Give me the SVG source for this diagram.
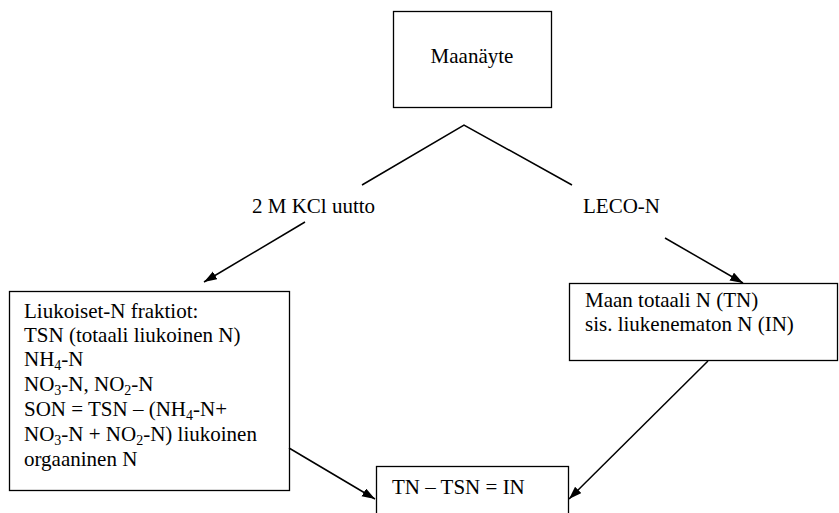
<svg xmlns="http://www.w3.org/2000/svg" width="839" height="513" viewBox="0 0 839 513">
<defs>
<style>
.box{fill:#fff;stroke:#000;stroke-width:1.3}
.t{font-family:"Liberation Serif","Times New Roman",serif;font-size:21px;fill:#000}
.sub{font-size:14px}
.ln{stroke:#000;stroke-width:1.5;fill:none}
.arr{marker-end:url(#ah)}
</style>
<marker id="ah" markerUnits="userSpaceOnUse" markerWidth="14" markerHeight="10" refX="13" refY="4.5" orient="auto">
<path d="M0,0 L13,4.5 L0,9 z" fill="#000"/>
</marker>
</defs>
<rect width="839" height="513" fill="#fff"/>
<g id="maanayte">
<rect class="box" x="393.5" y="11.5" width="158" height="96"/>
<text class="t" x="472" y="63" text-anchor="middle">Maanäyte</text>
</g>
<g id="kcl-label">
<text class="t" x="252" y="213">2 M KCl uutto</text>
</g>
<g id="leco-label">
<text class="t" x="583" y="213">LECO-N</text>
</g>
<g id="liukoiset">
<rect class="box" x="9.5" y="291.5" width="280" height="199"/>
<text class="t" x="24" y="318">Liukoiset-N fraktiot:</text>
<text class="t" x="24" y="342">TSN (totaali liukoinen N)</text>
<text class="t" x="24" y="366">NH<tspan class="sub" dy="4">4</tspan><tspan dy="-4">-N</tspan></text>
<text class="t" x="24" y="391">NO<tspan class="sub" dy="4">3</tspan><tspan dy="-4">-N, NO</tspan><tspan class="sub" dy="4">2</tspan><tspan dy="-4">-N</tspan></text>
<text class="t" x="24" y="416">SON = TSN – (NH<tspan class="sub" dy="4">4</tspan><tspan dy="-4">-N+</tspan></text>
<text class="t" x="24" y="441">NO<tspan class="sub" dy="4">3</tspan><tspan dy="-4">-N + NO</tspan><tspan class="sub" dy="4">2</tspan><tspan dy="-4">-N) liukoinen</tspan></text>
<text class="t" x="24" y="466">orgaaninen N</text>
</g>
<g id="totaali">
<rect class="box" x="569.5" y="283.5" width="268" height="77"/>
<text class="t" x="585" y="307">Maan totaali N (TN)</text>
<text class="t" x="585" y="331">sis. liukenematon N (IN)</text>
</g>
<g id="tulos">
<rect class="box" x="376.5" y="466.5" width="192" height="60"/>
<text class="t" x="392" y="494">TN – TSN = IN</text>
</g>
<g id="connectors">
<polyline class="ln" points="362,185 464,125 572,185"/>
<line class="ln arr" x1="305" y1="222" x2="204" y2="282"/>
<line class="ln arr" x1="665" y1="238" x2="743" y2="283"/>
<line class="ln arr" x1="289" y1="448" x2="375" y2="499"/>
<line class="ln arr" x1="708" y1="361" x2="569" y2="499"/>
</g>
</svg>
